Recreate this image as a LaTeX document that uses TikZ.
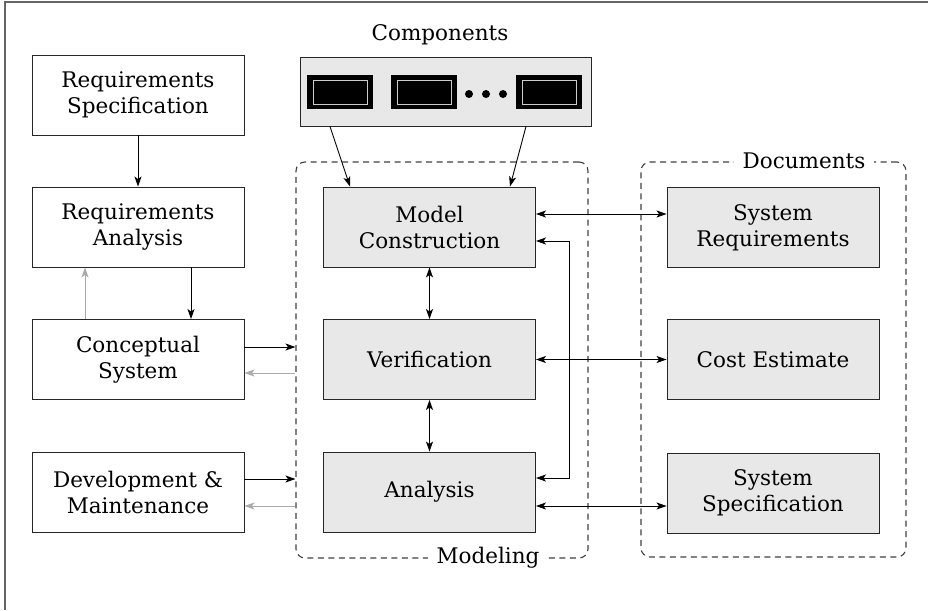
\documentclass[tikz,border=0pt]{standalone}
\usepackage{fontspec}
\setmainfont{DejaVu Serif}
\usetikzlibrary{arrows.meta,calc}
\definecolor{boxgray}{HTML}{E8E8E8}
\definecolor{dashcol}{HTML}{404040}
\definecolor{backcol}{HTML}{AAAAAA}
\definecolor{framecol}{HTML}{666666}
\tikzset{
  txt/.style={font=\fontsize{21.5}{26}\selectfont},
  whitebox/.style={draw=black!85, line width=0.9pt, fill=white, minimum width=212pt, minimum height=80pt, align=center, txt, inner sep=0pt},
  graybox/.style={whitebox, fill=boxgray},
  group/.style={draw=dashcol, dash pattern=on 6pt off 4.5pt, line width=1.1pt, rounded corners=9pt, minimum width=#1, inner sep=0pt},
  arr/.style={-{Stealth[length=10pt,width=7pt,inset=2.5pt]}, line width=0.9pt, black},
  bi/.style={{Stealth[length=10pt,width=7pt,inset=2.5pt]}-{Stealth[length=10pt,width=7pt,inset=2.5pt]}, line width=0.9pt, black},
  back/.style={arr, backcol, line width=1pt},
  chip/.style={fill=black, minimum width=66pt, minimum height=34pt, inner sep=0pt},
  chipin/.style={draw=white!80!black, line width=0.8pt, minimum width=54pt, minimum height=24pt, inner sep=0pt},
}
\begin{document}
\begin{tikzpicture}[x=1pt,y=-1pt]
\useasboundingbox (0,0) rectangle (928,610);
\draw[framecol, line width=2pt] (5,610) -- (5,2.5) -- (928,2.5);

% group boxes
\node[group=292pt, minimum height=396pt] (modbox) at (442,360) {};
\node[group=265pt, minimum height=395pt] (docbox) at (773.5,359.5) {};
\node[txt, fill=white, inner xsep=9pt, inner ysep=2pt] (modlbl) at (488,558) {Modeling};
\node[txt, fill=white, inner xsep=9pt, inner ysep=2pt] (doclbl) at (804,161) {Documents};

% left column
\node[whitebox] (rs) at (138,95) {Requirements\\Specification};
\node[whitebox] (ra) at (138,227) {Requirements\\Analysis};
\node[whitebox] (cs) at (138,359.5) {Conceptual\\System};
\node[whitebox] (dm) at (138,492) {Development \&\\Maintenance};

% middle column
\node[graybox] (mc) at (429.5,227) {Model\\Construction};
\node[graybox] (ve) at (429.5,359.5) {Verification};
\node[graybox] (an) at (429.5,492) {Analysis};

% right column
\node[graybox] (sr) at (773,227.5) {System\\Requirements};
\node[graybox] (ce) at (773,359.5) {Cost Estimate};
\node[graybox] (ss) at (773,493) {System\\Specification};

% components
\node[draw=black!85, line width=0.9pt, fill=boxgray, minimum width=291pt, minimum height=69pt, inner sep=0pt] (comp) at (445.5,91.5) {};
\node[txt] (complbl) at (440,35) {Components};
\node[chip] (c1) at (340,92) {};
\node[chipin] (c1i) at (340,92) {};
\node[chip] (c2) at (424,92) {};
\node[chipin] (c2i) at (424,92) {};
\node[chip] (c3) at (549,92) {};
\node[chipin] (c3i) at (549,92) {};
\fill (469,94) circle (4pt) (486,94) circle (4pt) (503,94) circle (4pt);

% left column arrows
\draw[arr] (rs.south) -- (ra.north);
\draw[arr] ([xshift=53pt]ra.south) -- ([xshift=53pt]cs.north);
\draw[back] ([xshift=-53pt]cs.north) -- ([xshift=-53pt]ra.south);
\draw[arr] ([yshift=12.5pt]cs.east) -- ([yshift=12.5pt]cs.east -| modbox.west);
\draw[back] ([yshift=-13.5pt]cs.east -| modbox.west) -- ([yshift=-13.5pt]cs.east);
\draw[arr] ([yshift=13pt]dm.east) -- ([yshift=13pt]dm.east -| modbox.west);
\draw[back] ([yshift=-14pt]dm.east -| modbox.west) -- ([yshift=-14pt]dm.east);

% components arrows
\draw[arr] ([xshift=-115.5pt]comp.south) -- ([xshift=-79.5pt]mc.north);
\draw[arr] ([xshift=80.5pt]comp.south) -- ([xshift=80.5pt]mc.north);

% middle arrows
\draw[bi] (mc.south) -- (ve.north);
\draw[bi] (ve.south) -- (an.north);
\draw[bi] ([yshift=-14pt]mc.east) -- ++(33,0) |- ([yshift=14pt]an.east);

% to documents
\draw[bi] ([yshift=13pt]mc.east) -- ([yshift=13pt]mc.east -| sr.west);
\draw[bi] (ve.east) -- (ve.east -| ce.west);
\draw[bi] ([yshift=-14pt]an.east) -- ([yshift=-14pt]an.east -| ss.west);
\end{tikzpicture}
\end{document}
